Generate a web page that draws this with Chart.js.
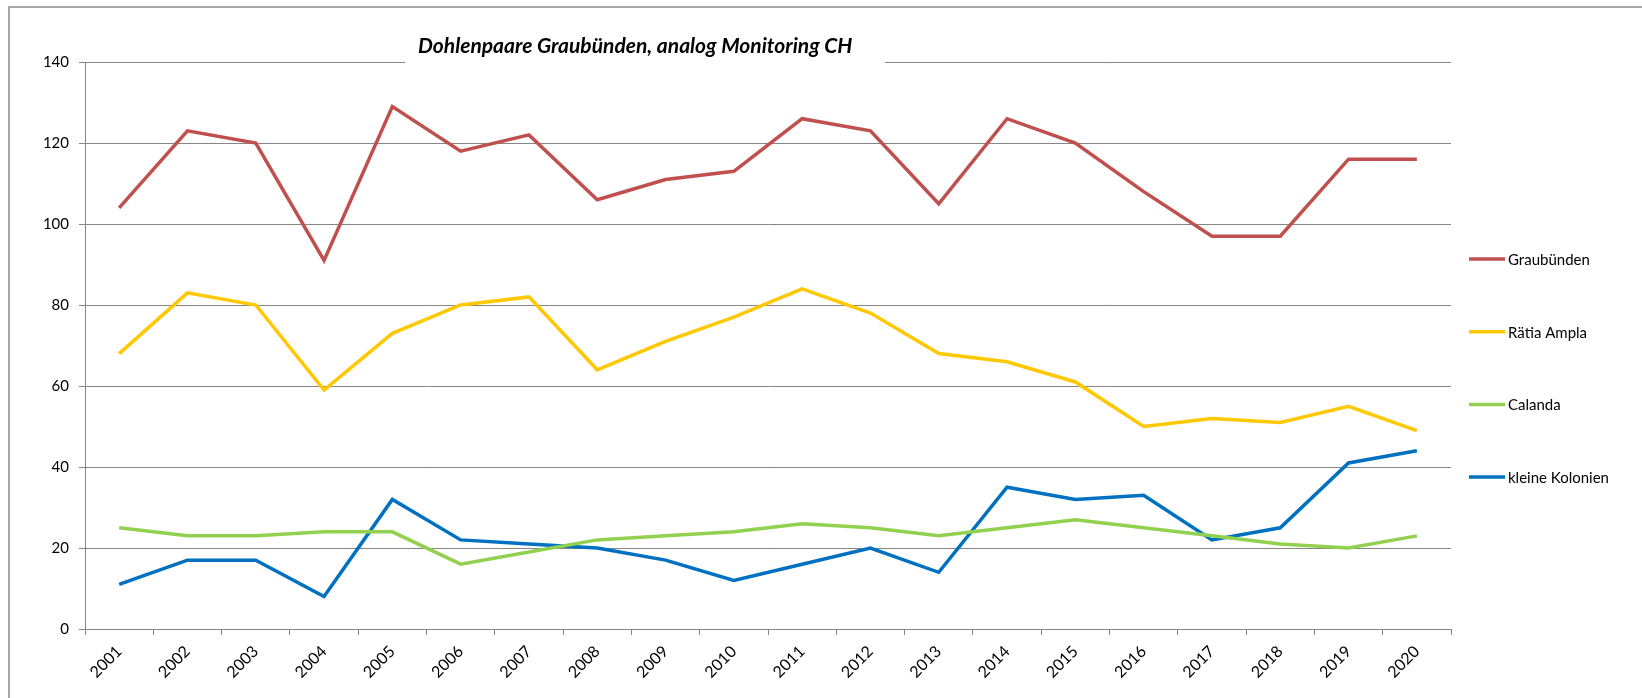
<!DOCTYPE html>
<html>
<head>
<meta charset="utf-8">
<script src="https://cdn.jsdelivr.net/npm/chart.js@4"></script>
<style>
  body { margin: 0; background: #fff; }
  #wrap { width: 1642px; height: 698px; position: relative; }
</style>
</head>
<body>
<div id="wrap"><canvas id="dohlenChart"></canvas></div>
<script>
const years = ["2001", "2002", "2003", "2004", "2005", "2006", "2007", "2008", "2009", "2010",
               "2011", "2012", "2013", "2014", "2015", "2016", "2017", "2018", "2019", "2020"];
const graubuenden = [104, 123, 120, 91, 129, 118, 122, 106, 111, 113, 126, 123, 105, 126, 120, 108, 97, 97, 116, 116];
const raetiaAmpla = [68, 83, 80, 59, 73, 80, 82, 64, 71, 77, 84, 78, 68, 66, 61, 50, 52, 51, 55, 49];
const calanda = [25, 23, 23, 24, 24, 16, 19, 22, 23, 24, 26, 25, 23, 25, 27, 25, 23, 21, 20, 23];
const kleineKolonien = [11, 17, 17, 8, 32, 22, 21, 20, 17, 12, 16, 20, 14, 35, 32, 33, 22, 25, 41, 44];
const seriesNames = ["Graubünden", "Rätia Ampla", "Calanda", "kleine Kolonien"];
const seriesColors = ["#C0504D", "#FFC800", "#92D050", "#0070C0"];
const titleText = "Dohlenpaare Graubünden, analog Monitoring CH";

const gridColor = "#868686";
const font = "Lato, 'Noto Sans', sans-serif";

// frame, title box and the legend on the right, like the Excel original
const excelLook = {
    id: "excelLook",
    beforeDraw(chart) {
        const c = chart.ctx;
        c.save();
        c.fillStyle = "#fff";
        c.fillRect(0, 0, chart.width, chart.height);
        c.strokeStyle = "#A6A6A6";
        c.lineWidth = 2;
        c.beginPath();
        c.moveTo(9, chart.height);
        c.lineTo(9, 7);
        c.lineTo(chart.width, 7);
        c.stroke();
        c.restore();
    },
    afterDraw(chart) {
        const c = chart.ctx;
        c.save();
        // white title box hides the top gridline
        c.fillStyle = "#fff";
        c.fillRect(405, 28, 480, 38);
        c.fillStyle = "#000";
        c.font = "italic bold 21px " + font;
        c.textBaseline = "alphabetic";
        c.fillText(titleText, 418, 53);

        // legend
        c.font = "15px " + font;
        c.textBaseline = "middle";
        chart.data.datasets.forEach(function (ds, i) {
            const y = 259 + i * 72.7;
            c.strokeStyle = ds.borderColor;
            c.lineWidth = 3.5;
            c.beginPath();
            c.moveTo(1469, y);
            c.lineTo(1505, y);
            c.stroke();
            c.fillStyle = "#000";
            c.fillText(ds.label, 1508, y + 1);
        });
        c.restore();
    }
};

const allSeries = [graubuenden, raetiaAmpla, calanda, kleineKolonien];

new Chart(document.getElementById("dohlenChart").getContext("2d"), {
    type: "line",
    data: {
        labels: years,
        datasets: allSeries.map(function (vals, i) {
            return {
                label: seriesNames[i],
                data: vals,
                borderColor: seriesColors[i],
                backgroundColor: seriesColors[i],
                borderWidth: 3.5,
                pointRadius: 0,
                tension: 0,
                fill: false
            };
        })
    },
    options: {
        responsive: true,
        maintainAspectRatio: false,
        animation: false,
        layout: { padding: { left: 0, right: 191, top: 62, bottom: 0 } },
        plugins: {
            legend: { display: false },
            title: { display: false },
            tooltip: { enabled: false }
        },
        scales: {
            x: {
                offset: true,
                afterFit: function (s) { s.height = 69; },
                grid: {
                    offset: true,
                    drawOnChartArea: false,
                    drawTicks: true,
                    tickLength: 6,
                    color: gridColor
                },
                border: { color: gridColor, width: 1 },
                ticks: {
                    minRotation: 45,
                    maxRotation: 45,
                    padding: 7,
                    color: "#000",
                    font: { family: font, size: 16 }
                }
            },
            y: {
                min: 0,
                max: 140,
                afterFit: function (s) { s.width = 85; },
                grid: {
                    color: gridColor,
                    tickLength: 6,
                    drawTicks: true
                },
                border: { color: gridColor, width: 1 },
                ticks: {
                    stepSize: 20,
                    padding: 10,
                    color: "#000",
                    font: { family: font, size: 15 }
                }
            }
        }
    },
    plugins: [excelLook]
});
</script>
</body>
</html>
